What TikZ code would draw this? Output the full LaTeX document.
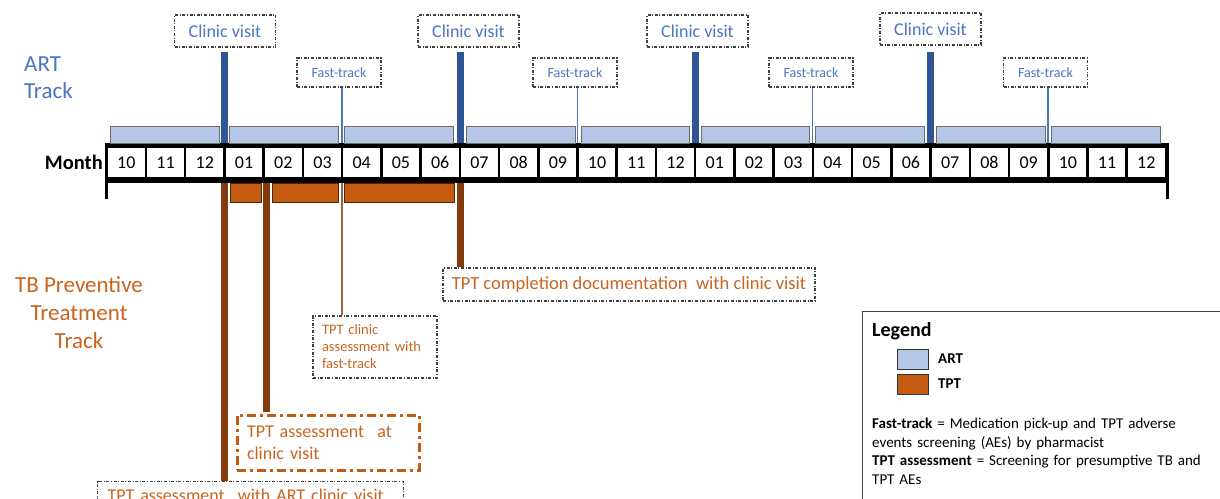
\documentclass[tikz,border=0pt]{standalone}
\usepackage{fontspec}
\setmainfont{Carlito}
\definecolor{artfill}{HTML}{B4C7E7}
\definecolor{cvblue}{HTML}{2F5597}
\definecolor{textblue}{HTML}{4A74C4}
\definecolor{tptfill}{HTML}{C55A11}
\definecolor{tptbrown}{HTML}{843C0C}
\definecolor{tpttext}{HTML}{C9641E}
\tikzset{
 dd/.style={draw=black!75, line width=1.1pt, dash pattern=on 3pt off 1.6pt on 1pt off 1.6pt},
 cvbox/.style={dd, minimum width=101pt, minimum height=32pt, inner sep=0pt, text=textblue, font=\fontsize{18}{20}\selectfont},
 ftbox/.style={dd, minimum width=84pt, minimum height=29pt, inner sep=0pt, text=textblue, font=\fontsize{14}{16}\selectfont},
 artbar/.style={fill=artfill, draw=gray!85!black, line width=0.9pt},
 tptbar/.style={fill=tptfill, draw=black!60!tptfill, line width=0.9pt},
 cvline/.style={draw=cvblue, line width=7pt},
 ftline/.style={draw=textblue, line width=1.6pt},
 tline/.style={draw=tptbrown, line width=7pt},
 tthin/.style={draw=tptbrown!80, line width=1.8pt},
 cell/.style={fill=white, minimum width=36.7pt, minimum height=29pt, inner sep=0pt, font=\fontsize{18}{20}\selectfont},
 tptbox/.style={dd, inner sep=0pt, text=tpttext},
 swatch/.style={minimum width=31pt, minimum height=20pt, inner sep=0pt, draw=black!80, line width=0.9pt},
}
\begin{document}
\begin{tikzpicture}[x=1pt,y=-1pt]
\useasboundingbox (0,0) rectangle (1220,498);

% ---- titles
\node[anchor=west, align=left, text=textblue, font=\fontsize{23}{27}\selectfont, inner sep=0pt] (arttitle) at (24,78) {ART\\Track};
\node[align=center, text=tpttext, font=\fontsize{23}{28}\selectfont, inner sep=0pt] (tpttitle) at (79,313) {TB Preventive\\Treatment\\Track};
\node[anchor=east, font=\bfseries\fontsize{20.5}{22}\selectfont, inner sep=0pt] (month) at (103,162) {Month};

% ---- month strip
\fill[black] (105,143) rectangle (1169,183);
\fill[black] (105,143) rectangle (108,199);
\fill[black] (1166,143) rectangle (1169,199);
\foreach \m [count=\i from 0] in {10,11,12,01,02,03,04,05,06,07,08,09,10,11,12,01,02,03,04,05,06,07,08,09,10,11,12}
  \node[cell] (m\i) at ({108+39.23*\i+18.35},162.5) {\m};

% ---- ART bars
\foreach \a/\b in {110/219, 229/338, 344/453, 466/575, 581/689, 701/809, 815/924, 936/1045, 1051/1160}
  \draw[artbar] (\a,126) rectangle (\b,143);

% ---- boundary coordinates
\coordinate (b3) at (224.5,143);
\coordinate (b6) at (342,143);
\coordinate (b9) at (460,143);
\coordinate (b12) at (577.4,143);
\coordinate (b15) at (695.3,143);
\coordinate (b18) at (812.5,143);
\coordinate (b21) at (930.4,143);
\coordinate (b24) at (1048,143);

% ---- clinic visit boxes
\node[cvbox] (cv1) at (225,31) {Clinic visit};
\node[cvbox] (cv2) at (468.5,31) {Clinic visit};
\node[cvbox] (cv3) at (697.5,31) {Clinic visit};
\node[cvbox] (cv4) at (930.5,29) {Clinic visit};
\draw[cvline] ([yshift=-4pt]cv1.south -| b3) -- (b3);
\draw[cvline] ([yshift=-4pt]cv2.south -| b9) -- (b9);
\draw[cvline] ([yshift=-4pt]cv3.south -| b15) -- (b15);
\draw[cvline] ([yshift=-6pt]cv4.south -| b21) -- (b21);

% ---- fast-track boxes
\node[ftbox] (ft1) at (339,72.5) {Fast-track};
\node[ftbox] (ft2) at (575,72.5) {Fast-track};
\node[ftbox] (ft3) at (811,72.5) {Fast-track};
\node[ftbox] (ft4) at (1045.5,72.5) {Fast-track};
\draw[ftline] (ft1.south -| b6) -- (b6);
\draw[ftline] (ft2.south -| b12) -- (b12);
\draw[ftline] (ft3.south -| b18) -- (b18);
\draw[ftline] (ft4.south -| b24) -- (b24);

% ---- TPT bars
\draw[tptbar] (230,183) rectangle (261,202);
\draw[tptbar] (272,183) rectangle (338,202);
\draw[tptbar] (344,183) rectangle (454,202);

\coordinate (t3) at (224.5,183);
\coordinate (t4) at (266,183);
\coordinate (t6) at (342,183);
\coordinate (t9) at (460,183);

% ---- TPT boxes
\node[tptbox, minimum width=372pt, minimum height=33pt, font=\fontsize{18.5}{21}\selectfont] (compl) at (629,284.5) {TPT completion documentation~ with clinic visit};
\node[tptbox, minimum width=124pt, minimum height=62pt, text width=106pt, align=left, font=\fontsize{14.5}{17}\selectfont] (ftassess) at (375,347) {TPT clinic\\assessment with\\fast-track};
\node[draw=tptfill, line width=3pt, dash pattern=on 9pt off 4pt on 3pt off 4pt, inner sep=0pt, text=tpttext, minimum width=182pt, minimum height=55pt, text width=162pt, align=left, font=\fontsize{18}{22}\selectfont] (cvassess) at (328,442.5) {TPT assessment\hspace{0.4em} at\\clinic visit};
\node[tptbox, anchor=north west, inner xsep=10pt, inner ysep=7pt, text width=286pt, align=left, font=\fontsize{18}{22}\selectfont] (artassess) at (97,481) {TPT assessment\hspace{0.4em} with ART clinic visit\\ \strut};

\draw[tline] (t3) -- (t3 |- artassess.north);
\draw[tline] (t4) -- ([yshift=2pt]t4 |- cvassess.north);
\draw[tthin] (t6) -- (t6 |- ftassess.north);
\draw[tline] (t9) -- (t9 |- compl.north);

% ---- legend
\draw[draw=black!75, line width=1pt] (1230,311) -- (862,311) -- (862,510);
\node[anchor=west, font=\bfseries\fontsize{20}{22}\selectfont, inner sep=0pt] (legtitle) at (872,331) {Legend};
\node[swatch, fill=artfill] (swart) at (912.5,359) {};
\node[swatch, fill=tptfill] (swtpt) at (912.5,384) {};
\node[anchor=west, font=\bfseries\fontsize{15}{17}\selectfont, inner sep=0pt] (lart) at (938,359) {ART};
\node[anchor=west, font=\bfseries\fontsize{15}{17}\selectfont, inner sep=0pt] (ltpt) at (938,384) {TPT};
\node[anchor=north west, align=left, text width=345pt, font=\fontsize{15}{18.5}\selectfont, inner sep=0pt] (legtext) at (872,418)
 {\textbf{Fast-track} = Medication pick-up and TPT adverse\\events screening (AEs) by pharmacist\\\textbf{TPT assessment} = Screening for presumptive TB and\\TPT AEs};
\end{tikzpicture}
\end{document}
